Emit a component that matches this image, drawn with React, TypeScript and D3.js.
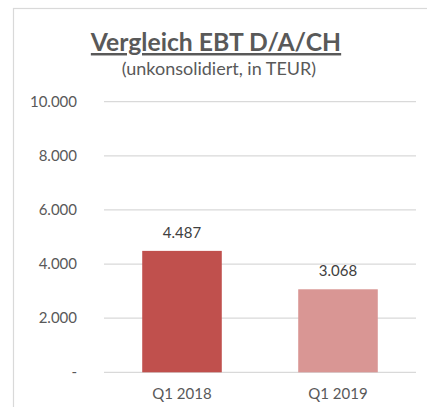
import React from "react";
import * as d3 from "d3";

const categories = ["Q1 2018", "Q1 2019"];
const values = [4487, 3068];
const barColors = ["#C0504D", "#D99694"];
const yTicks = [0, 2000, 4000, 6000, 8000, 10000];
const title = "Vergleich EBT D/A/CH";
const subtitle = "(unkonsolidiert, in TEUR)";

const W = 427;
const H = 407;
const FONT = "Lato, 'Open Sans', sans-serif";

const fmt = (v: number) => (v === 0 ? "-" : d3.format(",")(v).replace(/,/g, "."));

export default function App() {
  const plotLeft = 104;
  const plotRight = 416;
  const y = d3.scaleLinear().domain([0, 10000]).range([372.3, 101.7]);
  const x = d3.scaleBand().domain(categories).range([plotLeft, plotRight]).paddingInner(0.49).paddingOuter(0.245);

  return (
    <svg width={W} height={H} style={{ position: "absolute", left: 0, top: 0, background: "#fff" }} fontFamily={FONT}>
      <rect x={13.5} y={8.5} width={W + 10} height={H + 10} fill="#fff" stroke="#d9d9d9" strokeWidth={1.2} />
      <text x={216} y={51} textAnchor="middle" fontSize={24.7} fontWeight="bold" fill="#595959" textDecoration="underline">
        {title}
      </text>
      <text x={219} y={75} textAnchor="middle" fontSize={18} fill="#595959">
        {subtitle}
      </text>
      {yTicks.map((t) => (
        <g key={t}>
          <line x1={plotLeft} x2={plotRight} y1={y(t)} y2={y(t)} stroke="#d9d9d9" strokeWidth={1.3} />
          <text x={77} y={y(t) + 5} textAnchor="end" fontSize={15} fill="#595959">
            {fmt(t)}
          </text>
        </g>
      ))}
      {categories.map((c, i) => (
        <g key={c}>
          <rect x={x(c)} y={y(values[i])} width={x.bandwidth()} height={y(0) - y(values[i])} fill={barColors[i]} />
          <text x={(x(c) as number) + x.bandwidth() / 2} y={y(values[i]) - 13} textAnchor="middle" fontSize={15} fill="#404040">
            {fmt(values[i])}
          </text>
          <text x={(x(c) as number) + x.bandwidth() / 2} y={398.5} textAnchor="middle" fontSize={15} fill="#595959">
            {c}
          </text>
        </g>
      ))}
    </svg>
  );
}
